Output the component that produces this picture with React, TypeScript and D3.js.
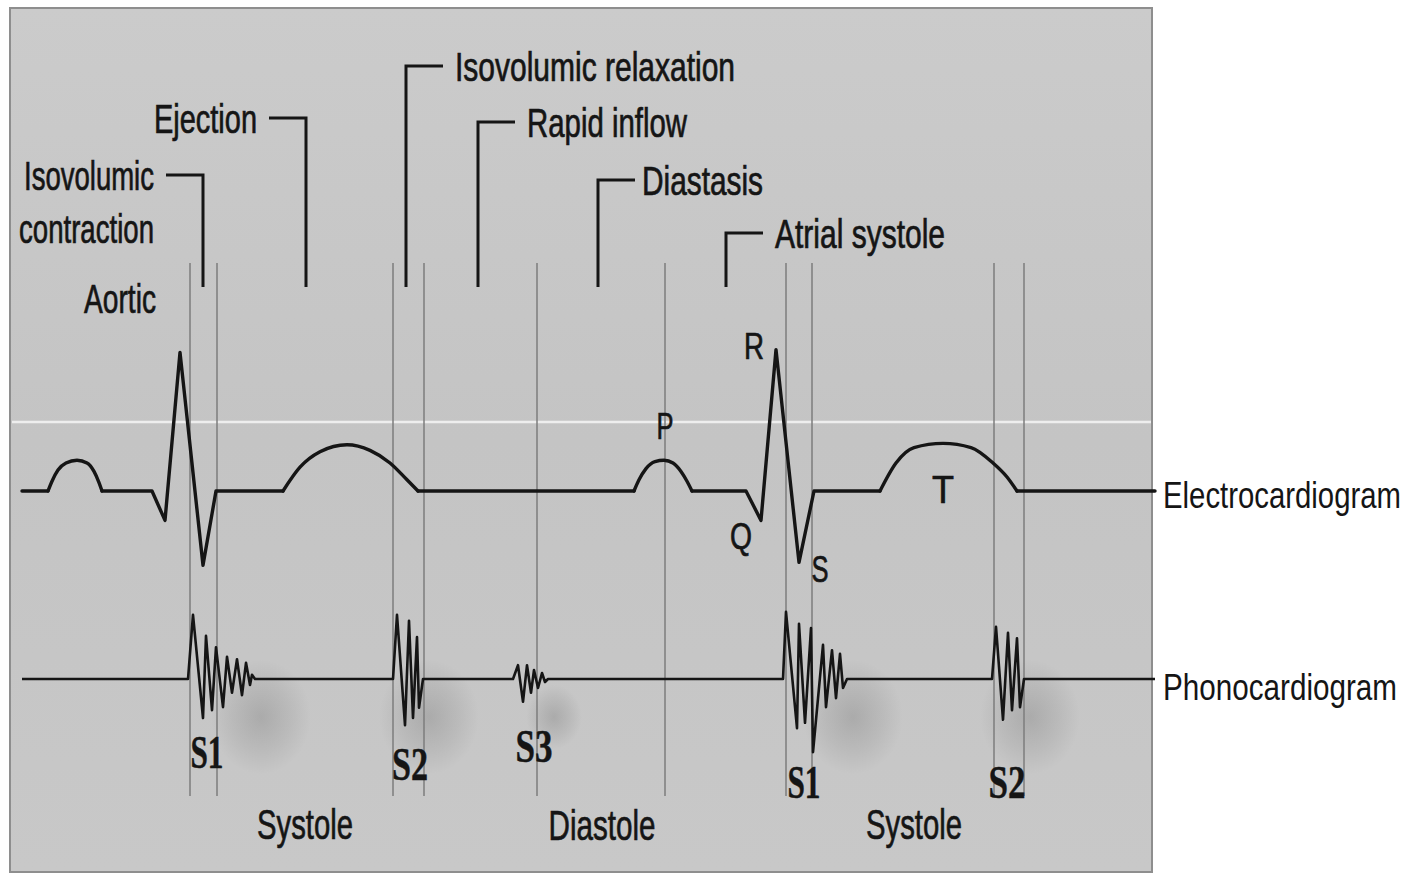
import React from 'react';
import * as d3 from 'd3';

const W = 1412;
const H = 875;

// time in ms from the left end of the traces; ECG in mV
const pWave1: [number, number][] = [[26, 0], [30, 0.07], [36, 0.15], [44, 0.2], [55, 0.22], [65, 0.2], [72, 0.14], [77, 0.06], [80, 0]];
const qrs1: [number, number][] = [[130, 0], [143, -0.21], [158, 0.99], [181, -0.53], [194, 0]];
const tWave1: [number, number][] = [[261, 0], [278, 0.17], [298, 0.28], [325, 0.33], [348, 0.29], [368, 0.2], [385, 0.08], [396, 0]];
const pWave2: [number, number][] = [[612, 0], [617, 0.08], [624, 0.16], [633, 0.21], [642, 0.22], [651, 0.2], [659, 0.14], [665, 0.07], [670, 0]];
const qrs2: [number, number][] = [[724, 0], [739, -0.21], [754, 1.01], [777, -0.51], [792, 0]];
const tWave2: [number, number][] = [[858, 0], [874, 0.2], [892, 0.31], [921, 0.34], [949, 0.31], [971, 0.2], [985, 0.1], [995, 0]];

// heart sounds, relative amplitude
const s1a: [number, number][] = [[166, 0], [171, 1.07], [181, -0.65], [184, 0.72], [190, -0.52], [194, 0.53], [201, -0.47], [205, 0.37], [210, -0.23], [215, 0.33], [220, -0.27], [224, 0.27], [228, -0.1], [230, 0.07], [233, 0]];
const s2a: [number, number][] = [[371, 0], [375, 1.07], [383, -0.77], [387, 0.97], [391, -0.65], [395, 0.7], [397, -0.48], [401, 0]];
const s3: [number, number][] = [[491, 0], [496, 0.23], [501, -0.38], [505, 0.23], [509, -0.23], [512, 0.15], [516, -0.15], [520, 0.1], [523, -0.05], [526, 0]];
const s1b: [number, number][] = [[761, 0], [764, 1.12], [775, -0.82], [777, 0.92], [783, -0.73], [789, 0.85], [791, -1.22], [801, 0.57], [804, -0.47], [810, 0.48], [814, -0.32], [818, 0.42], [821, -0.15], [825, 0]];
const s2b: [number, number][] = [[970, 0], [974, 0.87], [981, -0.68], [986, 0.77], [990, -0.52], [995, 0.68], [998, -0.47], [1002, 0]];

const gridTimes = [168, 195, 371, 402, 515, 643, 764, 790, 972, 1002];

const phaseNames = ['Isovolumic contraction', 'Ejection', 'Isovolumic relaxation', 'Rapid inflow', 'Diastasis', 'Atrial systole'];
const phaseTimes = [181, 284, 384, 456, 576, 704];

const soundNames = ['S1', 'S2', 'S3', 'S1', 'S2'];
const periodNames = ['Systole', 'Diastole', 'Systole'];
const traceNames = ['Electrocardiogram', 'Phonocardiogram'];

// layout only
const armY = [175, 118, 66, 122, 180, 233];
const armSide = [-1, -1, 1, 1, 1, 1];
const phaseTextLen = [[130, 135], [103], [280], [160], [121], [170]];
const soundPos = [[207, 768, 33], [410, 780, 36], [534, 762, 37], [804, 798, 33], [1007, 798, 37]];
const periodPos = [[305, 839, 96], [602, 840, 107], [914, 839, 96]];
const tracePos = [[508, 238], [700, 234]];

const sans = "'Liberation Sans Narrow', 'Liberation Sans', Arial, sans-serif";
const serif = "'Liberation Serif', 'Times New Roman', serif";
const ink = '#151515';

export default function App() {
  const x = d3.scaleLinear().domain([0, 1130]).range([22, 1152]);
  const ecgY = d3.scaleLinear().domain([0, 1]).range([491, 351]);
  const phY = d3.scaleLinear().domain([0, 1]).range([679, 619]);

  const lin = d3.line<[number, number]>().x(d => x(d[0])).y(d => ecgY(d[1]));
  const smooth = d3.line<[number, number]>().x(d => x(d[0])).y(d => ecgY(d[1])).curve(d3.curveMonotoneX);
  const phLine = d3.line<[number, number]>().x(d => x(d[0])).y(d => phY(d[1]));

  const ecgPieces = [
    { c: lin, p: [[0, 0], pWave1[0]] },
    { c: smooth, p: pWave1 },
    { c: lin, p: [pWave1[pWave1.length - 1], ...qrs1, tWave1[0]] },
    { c: smooth, p: tWave1 },
    { c: lin, p: [tWave1[tWave1.length - 1], pWave2[0]] },
    { c: smooth, p: pWave2 },
    { c: lin, p: [pWave2[pWave2.length - 1], ...qrs2, tWave2[0]] },
    { c: smooth, p: tWave2 },
    { c: lin, p: [tWave2[tWave2.length - 1], [1133, 0]] },
  ] as { c: d3.Line<[number, number]>; p: [number, number][] }[];

  const phono: [number, number][] = [[0, 0], ...s1a, ...s2a, ...s3, ...s1b, ...s2b, [1133, 0]];
  const bursts = [s1a, s2a, s3, s1b, s2b];

  const rPeak = qrs2[2], qTip = qrs2[1], sTip = qrs2[3];
  const pTop = pWave2[4], tTop = tWave2[3];

  const txt = { fill: ink, stroke: ink, strokeWidth: 0.7 };

  return (
    <div style={{ position: 'absolute', left: 0, top: 0 }}>
      <svg width={W} height={H} style={{ display: 'block' }}>
        <defs>
          <radialGradient id="smudge">
            <stop offset="0%" stopColor="#000" stopOpacity={0.14} />
            <stop offset="60%" stopColor="#000" stopOpacity={0.06} />
            <stop offset="100%" stopColor="#000" stopOpacity={0} />
          </radialGradient>
          <linearGradient id="panel" x1="0" y1="0" x2="0" y2="1">
            <stop offset="0%" stopColor="#cbcbcb" />
            <stop offset="50%" stopColor="#c4c4c4" />
            <stop offset="100%" stopColor="#c8c8c8" />
          </linearGradient>
        </defs>
        <rect width={W} height={H} fill="#fff" />
        <rect x={10} y={8} width={1142} height={864} fill="url(#panel)" stroke="#8e8e8e" strokeWidth={2} />
        <line x1={12} x2={1151} y1={422} y2={422} stroke="#eeeeee" strokeWidth={2.5} />

        {bursts.map((b, i) => {
          const tEnd = b[b.length - 1][0];
          const r = i === 2 ? 28 : 50;
          return <ellipse key={i} cx={x(tEnd) + 6} cy={phY(0) + 38} rx={r} ry={r * 1.15} fill="url(#smudge)" />;
        })}

        {gridTimes.map((t, i) => (
          <line key={i} x1={x(t)} x2={x(t)} y1={263} y2={796} stroke="#7d7d7d" strokeWidth={1.5} />
        ))}

        {phaseTimes.map((t, i) => {
          const vx = x(t);
          const ax = vx + armSide[i] * 37;
          const lines = i === 0 ? ['Isovolumic', 'contraction'] : [phaseNames[i]];
          const tx = ax + armSide[i] * (i === 4 ? 7 : 12);
          return (
            <g key={i}>
              <path d={`M${ax},${armY[i]}H${vx}V287`} fill="none" stroke={ink} strokeWidth={3} />
              {lines.map((s, j) => (
                <text key={j} x={tx} y={armY[i] + 15 + j * 53} fontFamily={sans} fontSize={40}
                  textAnchor={armSide[i] < 0 ? 'end' : 'start'} {...txt}
                  textLength={phaseTextLen[i][j]} lengthAdjust="spacingAndGlyphs">{s}</text>
              ))}
            </g>
          );
        })}
        <text x={156} y={313} fontFamily={sans} fontSize={41} textAnchor="end" {...txt}
          textLength={72} lengthAdjust="spacingAndGlyphs">Aortic</text>

        {ecgPieces.map((s, i) => (
          <path key={i} d={s.c(s.p) || ''} fill="none" stroke={ink} strokeWidth={3.4} strokeLinecap="round" strokeLinejoin="round" />
        ))}
        <path d={phLine(phono) || ''} fill="none" stroke={ink} strokeWidth={2.6} strokeLinejoin="round" />

        <g fontFamily={sans} textAnchor="middle" {...txt}>
          <text x={x(rPeak[0]) - 22} y={ecgY(rPeak[1]) + 9} fontSize={36} textLength={20} lengthAdjust="spacingAndGlyphs">R</text>
          <text x={x(pTop[0]) + 1} y={ecgY(pTop[1]) - 21} fontSize={36} textLength={17} lengthAdjust="spacingAndGlyphs">P</text>
          <text x={x(qTip[0]) - 20} y={ecgY(qTip[1]) + 29} fontSize={36} textLength={22} lengthAdjust="spacingAndGlyphs">Q</text>
          <text x={x(sTip[0]) + 21} y={ecgY(sTip[1]) + 20} fontSize={36} textLength={17} lengthAdjust="spacingAndGlyphs">S</text>
          <text x={x(tTop[0])} y={ecgY(tTop[1]) + 60} fontSize={38} textLength={22} lengthAdjust="spacingAndGlyphs">T</text>
        </g>

        <g fontFamily={serif} fontWeight="bold" textAnchor="middle" fill={ink} stroke={ink} strokeWidth={0.5}>
          {soundNames.map((s, i) => (
            <text key={i} x={soundPos[i][0]} y={soundPos[i][1]} fontSize={46}
              textLength={soundPos[i][2]} lengthAdjust="spacingAndGlyphs">{s}</text>
          ))}
        </g>

        <g fontFamily={sans} textAnchor="middle" {...txt}>
          {periodNames.map((s, i) => (
            <text key={i} x={periodPos[i][0]} y={periodPos[i][1]} fontSize={43}
              textLength={periodPos[i][2]} lengthAdjust="spacingAndGlyphs">{s}</text>
          ))}
        </g>

        <g fontFamily="'Liberation Sans', Arial, sans-serif" fill={ink}>
          {traceNames.map((s, i) => (
            <text key={i} transform={`translate(1163,${tracePos[i][0]}) scale(1,1.3)`} fontSize={29}
              textLength={tracePos[i][1]} lengthAdjust="spacingAndGlyphs">{s}</text>
          ))}
        </g>
      </svg>
    </div>
  );
}
